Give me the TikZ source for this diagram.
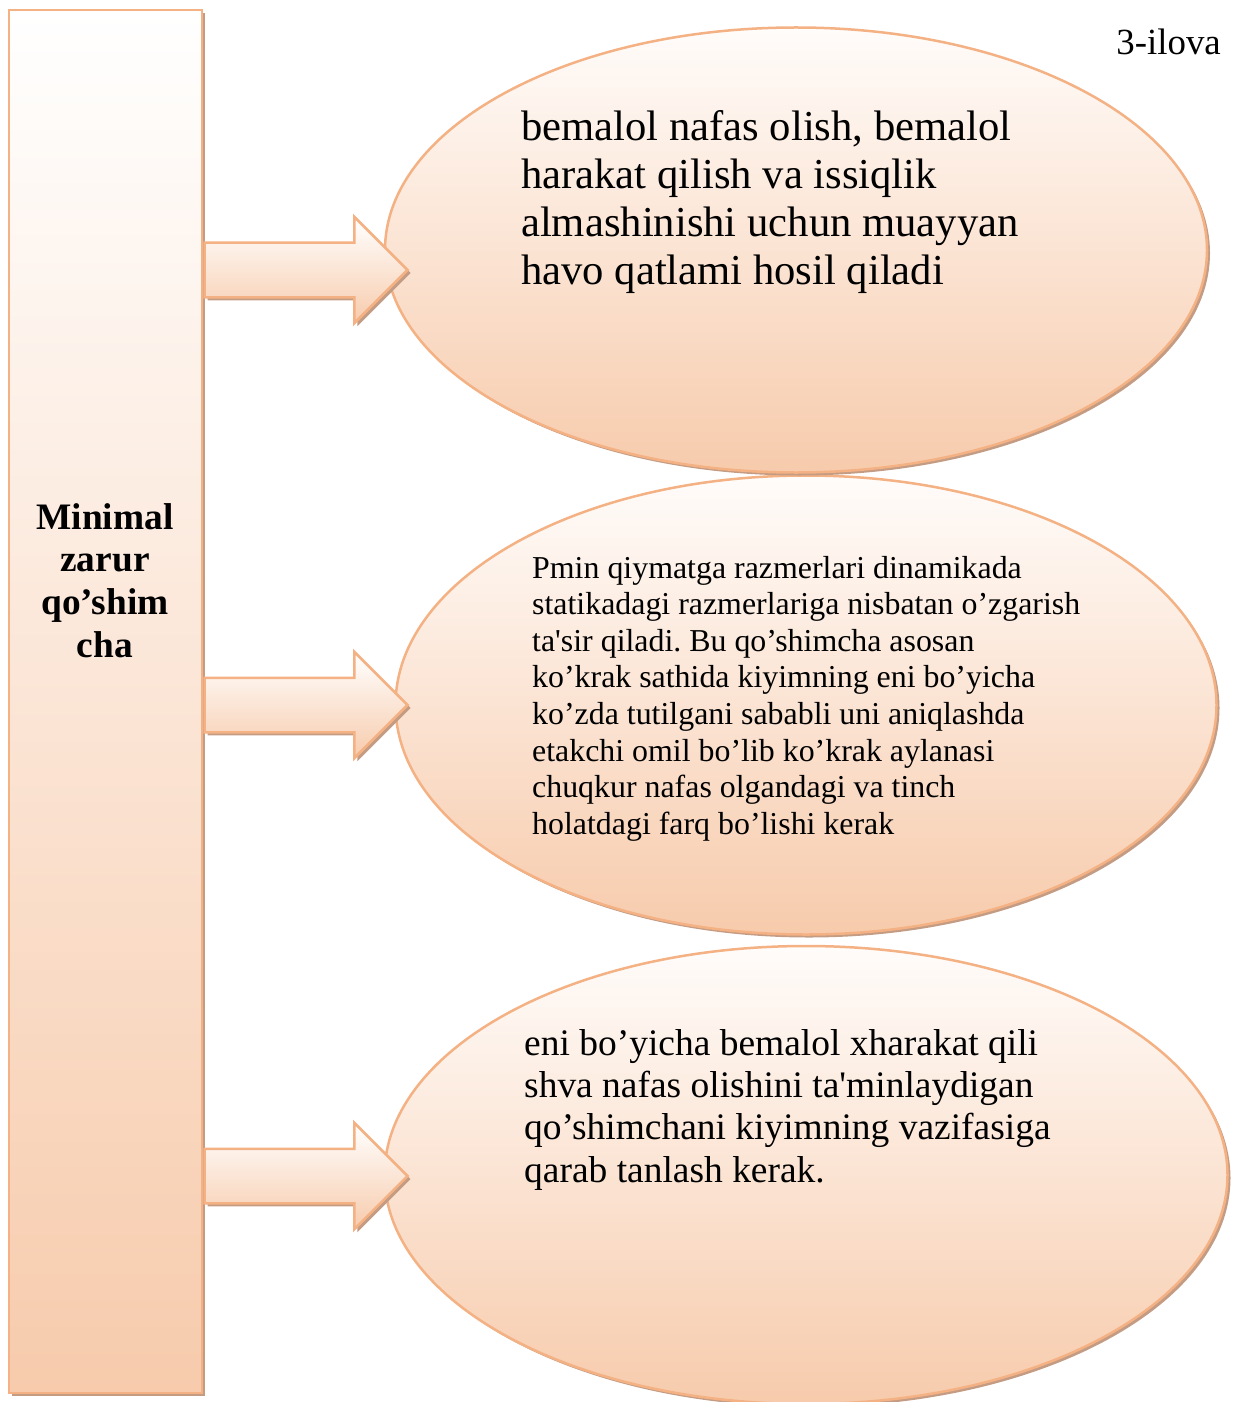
\documentclass[tikz,border=0pt]{standalone}
\usepackage{fontspec}
\setmainfont{Liberation Serif}
\usetikzlibrary{shapes.geometric,shapes.arrows,shadows}
\frenchspacing

\definecolor{peach}{HTML}{F7CBAC}
\definecolor{rim}{HTML}{F4B183}
\definecolor{shade}{HTML}{C49C84}
\definecolor{paletop}{HTML}{FFFCFA}

\newcommand{\lines}[3]{{\fontsize{#1}{#2}\selectfont\begin{tabular}[t]{@{}l@{}}#3\end{tabular}}}
\newcommand{\sq}{\textquotesingle}

\tikzset{
  panel/.style={draw=rim, line width=2.5bp, top color=paletop, bottom color=peach,
    drop shadow={shadow xshift=3bp, shadow yshift=-3bp, fill=shade, opacity=1}},
  bubble/.style={panel, ellipse, inner sep=0pt},
  pillar/.style={panel, rectangle, inner sep=0pt, top color=white},
  blockarrow/.style={panel, single arrow, single arrow head extend=26bp,
    single arrow tip angle=90, inner xsep=0pt, inner ysep=26bp,
    minimum height=203bp, text height=0pt, text depth=0pt, top color=white},
  words/.style={inner sep=0pt, text=black}
}

\begin{document}
\begin{tikzpicture}[x=1bp, y=-1bp]
  \useasboundingbox (0,0) rectangle (1238,1402);

  % left column
  \node[pillar, minimum width=193bp, minimum height=1383bp] (col) at (105.5,701.5) {};
  \node[words, anchor=base, font=\bfseries] (coltext) at (105,529)
    {{\fontsize{37.5}{43}\selectfont\begin{tabular}[t]{@{}c@{}}Minimal\\zarur\\qo’shim\\cha\end{tabular}}};

  % three ellipses
  \node[bubble, minimum width=843bp, minimum height=458bp] (e3) at (806,1175) {};
  \node[bubble, minimum width=821bp, minimum height=459bp] (e2) at (806,705) {};
  \node[bubble, minimum width=822bp, minimum height=445bp] (e1) at (796,250) {};

  % ellipse texts
  \node[words, anchor=base west] (t1) at (521,141)
    {\lines{42.8}{48}{bemalol nafas olish, bemalol\\harakat qilish va issiqlik\\almashinishi uchun muayyan\\havo qatlami hosil qiladi}};
  \node[words, anchor=base west] (t2) at (532,578)
    {\lines{32}{36.8}{Pmin qiymatga razmerlari dinamikada\\statikadagi razmerlariga nisbatan o’zgarish\\ta\sq sir qiladi. Bu qo’shimcha asosan\\ko’krak sathida kiyimning eni bo’yicha\\ko’zda tutilgani sababli uni aniqlashda\\etakchi omil bo’lib ko’krak aylanasi\\chuqkur nafas olgandagi va tinch\\holatdagi farq bo’lishi kerak}};
  \node[words, anchor=base west] (t3) at (524,1055)
    {\lines{37.6}{42.5}{eni bo’yicha bemalol xharakat qili\\shva nafas olishini ta\sq minlaydigan\\qo’shimchani kiyimning vazifasiga\\qarab tanlash kerak.}};

  % block arrows from the column to the ellipses
  \coordinate (a1) at (col.east |- 0,270);
  \coordinate (a2) at (col.east |- 0,705);
  \coordinate (a3) at (col.east |- 0,1176);
  \node[blockarrow, anchor=tail] (r1) at (a1) {};
  \node[blockarrow, anchor=tail] (r2) at (a2) {};
  \node[blockarrow, anchor=tail] (r3) at (a3) {};

  % annex label
  \node[words, anchor=base east, font=\fontsize{37}{42}\selectfont] (annex) at (1221,55) {3-ilova};
\end{tikzpicture}
\end{document}
